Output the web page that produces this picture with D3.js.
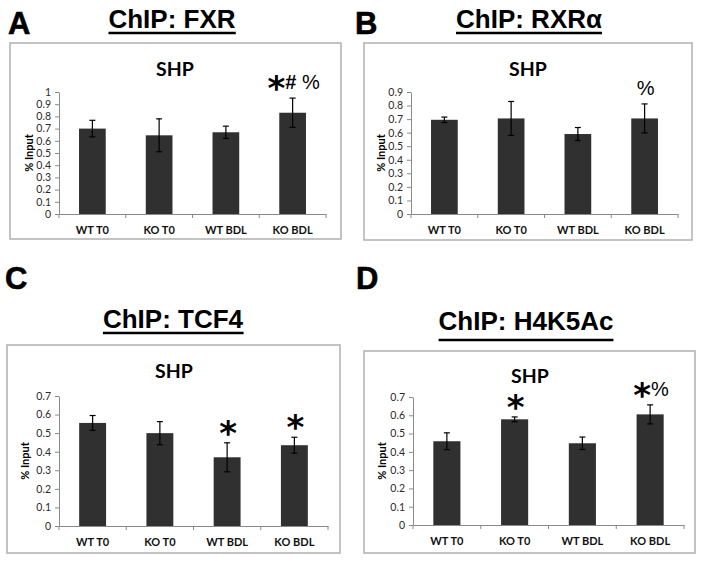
<!DOCTYPE html>
<html>
<head>
<meta charset="utf-8">
<script src="https://cdnjs.cloudflare.com/ajax/libs/d3/7.8.5/d3.min.js"></script>
<style>
  body { margin: 0; background: #fff; }
</style>
</head>
<body>
<div id="fig"></div>
<script>
// categories shared by all four panels
var categories = ["WT T0", "KO T0", "WT BDL", "KO BDL"];

// A: ChIP FXR
var fxrValues = [0.70, 0.645, 0.67, 0.83];
var fxrErrors = [0.068, 0.135, 0.05, 0.12];
var fxrMarks  = ["", "", "", "*# %"];
var fxrTicks  = [0, 0.1, 0.2, 0.3, 0.4, 0.5, 0.6, 0.7, 0.8, 0.9, 1];

// B: ChIP RXRa
var rxrValues = [0.695, 0.705, 0.59, 0.705];
var rxrErrors = [0.02, 0.125, 0.048, 0.107];
var rxrMarks  = ["", "", "", "%"];
var rxrTicks  = [0, 0.1, 0.2, 0.3, 0.4, 0.5, 0.6, 0.7, 0.8, 0.9];

// C: ChIP TCF4
var tcfValues = [0.555, 0.50, 0.37, 0.435];
var tcfErrors = [0.04, 0.062, 0.078, 0.043];
var tcfMarks  = ["", "", "*", "*"];
var tcfTicks  = [0, 0.1, 0.2, 0.3, 0.4, 0.5, 0.6, 0.7];

// D: ChIP H4K5Ac
var h4Values = [0.458, 0.578, 0.447, 0.605];
var h4Errors = [0.046, 0.013, 0.034, 0.052];
var h4Marks  = ["", "*", "", "*%"];
var h4Ticks  = [0, 0.1, 0.2, 0.3, 0.4, 0.5, 0.6, 0.7];

var svg = d3.select("#fig")
  .append("svg")
    .attr("width", 704)
    .attr("height", 562);

var panels = [
  { letter: "A", lx: 8, ly: 34, title: "ChIP: FXR", tx: 172, ty: 28, uy: 33,
    frame: [10, 43, 341, 239], plot: [59, 326, 214, 92], shp: [175, 76], ylab: 33,
    values: fxrValues, errors: fxrErrors, marks: fxrMarks, ticks: fxrTicks },
  { letter: "B", lx: 355, ly: 34, title: "ChIP: RXR\u03b1", tx: 529, ty: 28, uy: 33,
    frame: [364, 43, 692, 240], plot: [411, 678, 214, 92], shp: [528, 76], ylab: 385,
    values: rxrValues, errors: rxrErrors, marks: rxrMarks, ticks: rxrTicks },
  { letter: "C", lx: 5, ly: 289, title: "ChIP: TCF4", tx: 173, ty: 328, uy: 333,
    frame: [7, 345, 340, 553], plot: [59, 328, 526, 396], shp: [174, 378], ylab: 29,
    values: tcfValues, errors: tcfErrors, marks: tcfMarks, ticks: tcfTicks },
  { letter: "D", lx: 356, ly: 289, title: "ChIP: H4K5Ac", tx: 526, ty: 330, uy: 340,
    frame: [364, 351, 695, 553], plot: [413, 684, 525, 397], shp: [530, 383], ylab: 386,
    values: h4Values, errors: h4Errors, marks: h4Marks, ticks: h4Ticks }
];

panels.forEach(drawPanel);

function drawPanel(p) {
  var g = svg.append("g");

  // panel letter
  g.append("text")
    .attr("x", p.lx).attr("y", p.ly)
    .style("font-family", "'Liberation Sans', Arial, sans-serif")
    .style("font-weight", "bold")
    .style("font-size", "31px")
    .attr("stroke", "#000").attr("stroke-width", 0.6)
    .text(p.letter);

  // underlined title
  var t = g.append("text")
    .attr("x", p.tx).attr("y", p.ty)
    .attr("text-anchor", "middle")
    .style("font-family", "'Liberation Sans', Arial, sans-serif")
    .style("font-weight", "bold")
    .style("font-size", "26px")
    .text(p.title);
  var bb = t.node().getBBox();
  g.append("line")
    .attr("x1", bb.x).attr("x2", bb.x + bb.width)
    .attr("y1", p.uy).attr("y2", p.uy)
    .attr("stroke", "#000").attr("stroke-width", 2.4);

  // chart frame
  g.append("rect")
    .attr("x", p.frame[0]).attr("y", p.frame[1])
    .attr("width", p.frame[2] - p.frame[0])
    .attr("height", p.frame[3] - p.frame[1])
    .attr("fill", "#fff")
    .attr("stroke", "#b5b5b5")
    .attr("stroke-width", 1.6);

  g.append("text")
    .attr("x", p.shp[0]).attr("y", p.shp[1])
    .attr("text-anchor", "middle")
    .style("font-family", "Lato, sans-serif")
    .style("font-weight", "bold")
    .style("font-size", "19.5px")
    .text("SHP");

  var x = d3.scaleBand()
    .domain(categories)
    .range([p.plot[0], p.plot[1]])
    .paddingInner(0.6)
    .paddingOuter(0.3);

  var y = d3.scaleLinear()
    .domain([0, p.ticks[p.ticks.length - 1]])
    .range([p.plot[2], p.plot[3]]);

  // Y axis
  var ya = g.append("g")
    .attr("transform", "translate(" + p.plot[0] + ",0)")
    .call(d3.axisLeft(y).tickValues(p.ticks).tickSize(4).tickSizeOuter(0)
      .tickPadding(4).tickFormat(function(d) { return String(d); }));
  ya.select(".domain").attr("stroke", "#8a8a8a");
  ya.selectAll(".tick line").attr("stroke", "#8a8a8a");
  ya.selectAll("text")
    .attr("fill", "#2a2a2a")
    .style("font-family", "Lato, sans-serif")
    .style("font-size", "10.5px");

  // X axis: line, ticks at category boundaries, labels
  var xa = g.append("g")
    .attr("transform", "translate(0," + p.plot[2] + ")")
    .call(d3.axisBottom(x).tickSize(0).tickPadding(12));
  xa.select(".domain").attr("stroke", "#8a8a8a");
  xa.selectAll("text")
    .attr("fill", "#111")
    .style("font-family", "Lato, sans-serif")
    .style("font-weight", "bold")
    .style("font-size", "11px");
  xa.selectAll(".bound")
    .data(d3.range(categories.length + 1))
    .enter().append("line")
    .attr("x1", function(i) { return p.plot[0] + i * x.step(); })
    .attr("x2", function(i) { return p.plot[0] + i * x.step(); })
    .attr("y1", 0).attr("y2", 4)
    .attr("stroke", "#8a8a8a");

  // y label
  g.append("text")
    .attr("transform", "translate(" + p.ylab + "," + ((p.plot[2] + p.plot[3]) / 2) + ")rotate(-90)")
    .attr("text-anchor", "middle")
    .style("font-family", "Lato, sans-serif")
    .style("font-weight", "bold")
    .style("font-size", "11px")
    .text("% Input");

  var rows = categories.map(function(c, i) {
    return { cat: c, v: p.values[i], e: p.errors[i], m: p.marks[i] };
  });

  // bars
  g.selectAll(".bar")
    .data(rows)
    .enter().append("rect")
    .attr("x", function(d) { return x(d.cat); })
    .attr("y", function(d) { return y(d.v); })
    .attr("width", x.bandwidth())
    .attr("height", function(d) { return y(0) - y(d.v); })
    .attr("fill", "#303030");

  // error bars
  var cx = function(d) { return x(d.cat) + x.bandwidth() / 2; };
  var eb = g.selectAll(".err").data(rows).enter().append("g");
  eb.append("line")
    .attr("x1", cx).attr("x2", cx)
    .attr("y1", function(d) { return y(d.v - d.e); })
    .attr("y2", function(d) { return y(d.v + d.e); });
  eb.append("line")
    .attr("x1", function(d) { return cx(d) - 3; }).attr("x2", function(d) { return cx(d) + 3; })
    .attr("y1", function(d) { return y(d.v + d.e); })
    .attr("y2", function(d) { return y(d.v + d.e); });
  eb.append("line")
    .attr("x1", function(d) { return cx(d) - 3; }).attr("x2", function(d) { return cx(d) + 3; })
    .attr("y1", function(d) { return y(d.v - d.e); })
    .attr("y2", function(d) { return y(d.v - d.e); });
  eb.selectAll("line").attr("stroke", "#000").attr("stroke-width", 1.2);

  // significance marks
  rows.filter(function(d) { return d.m; }).forEach(function(d) {
    var txt = g.append("text")
      .attr("x", cx(d) + 1)
      .attr("y", y(d.v + d.e) - 9)
      .attr("text-anchor", "middle");
    var shift = 0;
    d.m.split("").forEach(function(ch) {
      var s = txt.append("tspan").text(ch);
      if (ch === "*") {
        s.attr("dy", 11 - shift)
          .style("font-family", "'DejaVu Sans', sans-serif")
          .style("font-weight", "bold")
          .style("font-size", "34px");
        shift = 11;
      } else {
        s.attr("dy", -shift)
          .style("font-family", "'Liberation Sans', Arial, sans-serif")
          .style("font-weight", ch === "#" ? "bold" : "normal")
          .style("font-size", "20px");
        shift = 0;
      }
    });
  });
}
</script>
</body>
</html>
